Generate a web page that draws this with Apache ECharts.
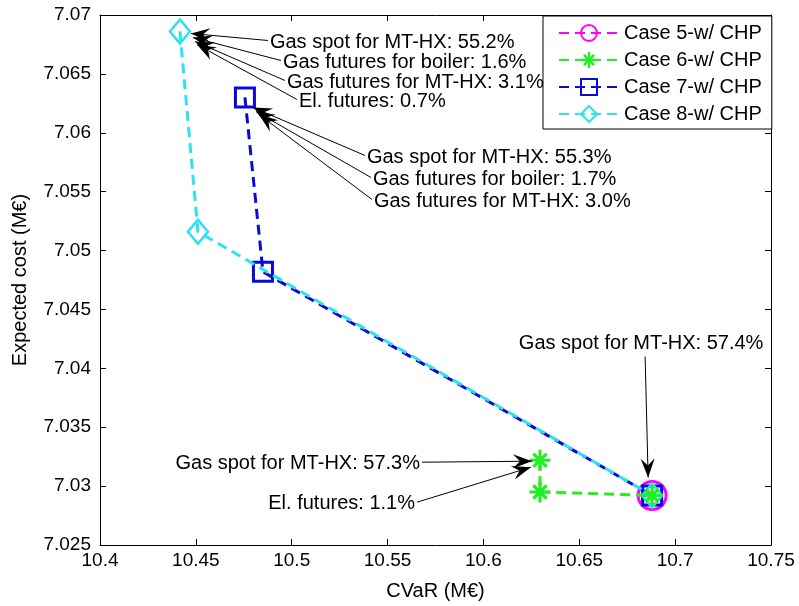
<!DOCTYPE html>
<html>
<head>
<meta charset="utf-8">
<script src="https://cdn.jsdelivr.net/npm/echarts@6/dist/echarts.min.js"></script>
<style>
  html, body { margin: 0; padding: 0; background: #fff; }
  #chart { width: 799px; height: 606px; }
</style>
</head>
<body>
<div id="chart"></div>
<script>
// data (CVaR vs expected cost, M€)
var seriesNames = ['Case 5-w/ CHP', 'Case 6-w/ CHP', 'Case 7-w/ CHP', 'Case 8-w/ CHP'];
var cvar5 = [10.688];
var cost5 = [7.0292];
var cvar6 = [10.6295, 10.6295, 10.688];
var cost6 = [7.0322, 7.0295, 7.0292];
var cvar7 = [10.4756, 10.485, 10.688];
var cost7 = [7.0630, 7.0482, 7.0292];
var cvar8 = [10.4417, 10.4511, 10.688];
var cost8 = [7.0686, 7.0516, 7.0292];

var annoTexts = [
  'Gas spot for MT-HX: 55.2%', 'Gas futures for boiler: 1.6%', 'Gas futures for MT-HX: 3.1%', 'El. futures: 0.7%',
  'Gas spot for MT-HX: 55.3%', 'Gas futures for boiler: 1.7%', 'Gas futures for MT-HX: 3.0%',
  'Gas spot for MT-HX: 57.4%',
  'Gas spot for MT-HX: 57.3%', 'El. futures: 1.1%'
];

function pairs(xs, ys) {
  return xs.map(function (x, i) { return [x, ys[i]]; });
}
var pts = [pairs(cvar5, cost5), pairs(cvar6, cost6), pairs(cvar7, cost7), pairs(cvar8, cost8)];

var FONT = '"Liberation Sans", Arial, Helvetica, sans-serif';
var asterisk = 'path://M-1.5 -10 L1.5 -10 L1.5 10 L-1.5 10 Z M-10 -1.5 L10 -1.5 L10 1.5 L-10 1.5 Z ' +
  'M-7.42 -5.3 L-5.3 -7.42 L7.42 5.3 L5.3 7.42 Z M-5.3 7.42 L-7.42 5.3 L5.3 -7.42 L7.42 -5.3 Z';

var colors = ['#ff00ff', '#22ee22', '#0a0ad8', '#2de2f0'];
var dash = [10, 6];

var chart = echarts.init(document.getElementById('chart'), null, { renderer: 'canvas' });

function fmt(d) { return function (v) { return String(parseFloat(v.toFixed(d))); }; }

var option = {
  animation: false,
  backgroundColor: '#fff',
  textStyle: { fontFamily: FONT },
  grid: { left: 100, right: 28, top: 15, bottom: 59 },
  legend: {
    data: seriesNames,
    orient: 'vertical',
    left: 543, top: 16,
    padding: [7, 10, 5, 15],
    itemWidth: 60, itemHeight: 20, itemGap: 7,
    backgroundColor: '#fff',
    borderColor: '#000', borderWidth: 1, borderRadius: 0,
    textStyle: { fontSize: 20, color: '#000', fontFamily: FONT }
  },
  xAxis: [{
    type: 'value', min: 10.4, max: 10.75, interval: 0.05,
    name: 'CVaR (M€)', nameLocation: 'middle', nameGap: 36,
    nameTextStyle: { fontSize: 20, color: '#000', fontFamily: FONT },
    axisLine: { lineStyle: { color: '#000', width: 1 } },
    axisTick: { inside: true, length: 6, lineStyle: { color: '#000' } },
    axisLabel: { fontSize: 19, color: '#000', margin: 6, formatter: fmt(2), fontFamily: FONT },
    splitLine: { show: false }
  }, {
    type: 'value', position: 'top', min: 10.4, max: 10.75, interval: 0.05,
    axisLine: { lineStyle: { color: '#000', width: 1 } },
    axisTick: { inside: true, length: 6, lineStyle: { color: '#000' } },
    axisLabel: { show: false }, splitLine: { show: false }
  }],
  yAxis: [{
    type: 'value', min: 7.025, max: 7.07, interval: 0.005,
    name: 'Expected cost (M€)', nameLocation: 'middle', nameGap: 70,
    nameTextStyle: { fontSize: 20, color: '#000', fontFamily: FONT },
    axisLine: { show: true, lineStyle: { color: '#000', width: 1 } },
    axisTick: { show: true, inside: true, length: 6, lineStyle: { color: '#000' } },
    axisLabel: { fontSize: 19, color: '#000', margin: 9, formatter: fmt(3), fontFamily: FONT },
    splitLine: { show: false }
  }, {
    type: 'value', position: 'right', min: 7.025, max: 7.07, interval: 0.005,
    axisLine: { show: true, lineStyle: { color: '#000', width: 1 } },
    axisTick: { show: true, inside: true, length: 6, lineStyle: { color: '#000' } },
    axisLabel: { show: false }, splitLine: { show: false }
  }],
  series: [{
    name: seriesNames[0], type: 'line', data: pts[0], z: 2,
    symbol: 'circle', symbolSize: 28,
    itemStyle: { color: 'rgba(255,255,255,0)', borderColor: colors[0], borderWidth: 3 },
    lineStyle: { color: colors[0], width: 3, type: dash }
  }, {
    name: seriesNames[1], type: 'line', data: pts[1], z: 6,
    symbol: asterisk, symbolSize: 21,
    itemStyle: { color: colors[1], borderWidth: 0 },
    lineStyle: { color: colors[1], width: 3, type: dash }
  }, {
    name: seriesNames[2], type: 'line', data: pts[2], z: 3,
    symbol: 'rect', symbolSize: 19,
    itemStyle: { color: 'rgba(255,255,255,0)', borderColor: colors[2], borderWidth: 3 },
    lineStyle: { color: colors[2], width: 3, type: dash }
  }, {
    name: seriesNames[3], type: 'line', data: pts[3], z: 4,
    symbol: 'diamond', symbolSize: [20, 24],
    itemStyle: { color: 'rgba(255,255,255,0)', borderColor: colors[3], borderWidth: 2.5 },
    lineStyle: { color: colors[3], width: 3, type: dash }
  }]
};
chart.setOption(option);

// annotation layout: target point [series, index], text offset, tip offset (pixels from target)
var annoLayout = [
  { t: [3, 0], tx: 90, ty: 11, al: 'left', px: 11, py: 2 },
  { t: [3, 0], tx: 103, ty: 31, al: 'left', px: 13, py: 6 },
  { t: [3, 0], tx: 107, ty: 51, al: 'left', px: 15, py: 10 },
  { t: [3, 0], tx: 119, ty: 70, al: 'left', px: 17, py: 13 },
  { t: [2, 0], tx: 122, ty: 60, al: 'left', px: 8, py: 10 },
  { t: [2, 0], tx: 128, ty: 82, al: 'left', px: 11, py: 14 },
  { t: [2, 0], tx: 129, ty: 104, al: 'left', px: 14, py: 17 },
  { t: [0, 0], tx: -11, ty: -152, al: 'center', px: -4, py: -18, lx: -7, ly: -139 },
  { t: [1, 0], tx: -120, ty: 3, al: 'right', px: -8, py: 1 },
  { t: [1, 0], tx: -125, ty: 43, al: 'right', px: -9, py: 7 }
];

function arrowHead(x, y, fromX, fromY) {
  var ang = Math.atan2(y - fromY, x - fromX);
  var L = 19, W = 7, N = 12;
  var c = Math.cos(ang), s = Math.sin(ang);
  function p(a, b) { return [x - a * c + b * s, y - a * s - b * c]; }
  return [[x, y], p(L, W), p(N, 0), p(L, -W)];
}

var graphics = [];
annoLayout.forEach(function (a, i) {
  var pt = pts[a.t[0]][a.t[1]];
  var base = chart.convertToPixel({ gridIndex: 0 }, pt);
  var tx = base[0] + a.tx, ty = base[1] + a.ty;
  var tipX = base[0] + a.px, tipY = base[1] + a.py;
  graphics.push({
    type: 'text', z: 100,
    style: { x: tx, y: ty, text: annoTexts[i], fill: '#000', font: '20px ' + FONT, align: a.al, verticalAlign: 'middle' }
  });
  var sx, sy;
  if (a.al === 'left') {
    sx = tx - 2; sy = ty - 2;
  } else if (a.al === 'right') {
    sx = tx + 2; sy = ty - 1;
  } else {
    sx = base[0] + a.lx; sy = base[1] + a.ly;
  }
  graphics.push({
    type: 'line', z: 100,
    shape: { x1: sx, y1: sy, x2: tipX, y2: tipY },
    style: { stroke: '#000', lineWidth: 1 }
  });
  graphics.push({
    type: 'polygon', z: 101,
    shape: { points: arrowHead(tipX, tipY, sx, sy) },
    style: { fill: '#000' }
  });
});
chart.setOption({ graphic: graphics });
</script>
</body>
</html>
